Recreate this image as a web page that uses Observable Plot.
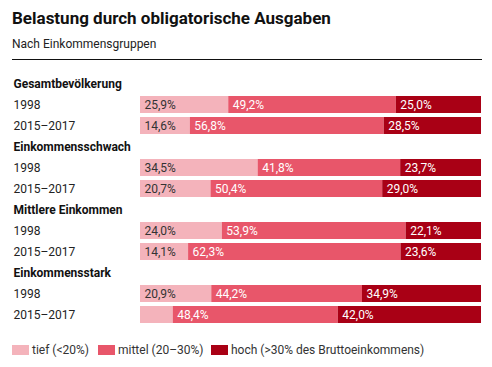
<!DOCTYPE html>
<html>
<head>
<meta charset="utf-8">
<script src="https://cdn.jsdelivr.net/npm/d3@7"></script>
<script src="https://cdn.jsdelivr.net/npm/@observablehq/plot@0.6"></script>
<style>
  html, body { margin: 0; padding: 0; background: #fff; }
  body { width: 492px; height: 367px; position: relative; font-family: Roboto, "Noto Sans", sans-serif; overflow: hidden; }
  #title { position: absolute; left: 12px; top: 8px; font-size: 17px; font-weight: 700; line-height: 20px; color: #111; white-space: nowrap; }
  #subtitle { position: absolute; left: 12px; top: 36px; font-size: 12px; line-height: 16px; color: #222; white-space: nowrap; }
  #rule { position: absolute; left: 12px; top: 59px; width: 470px; height: 1px; background: #111; }
  #chart { position: absolute; left: 0; top: 60px; }
  .item { position: absolute; top: 342px; height: 16px; display: flex; align-items: center; font-size: 12px; color: #333; white-space: nowrap; }
  .sw { width: 17px; height: 10px; margin-right: 3px; }
</style>
</head>
<body>
<div id="title">Belastung durch obligatorische Ausgaben</div>
<div id="subtitle">Nach Einkommensgruppen</div>
<div id="rule"></div>
<div id="chart"></div>
<div id="legend"></div>
<script>
const groups = ["Gesamtbevölkerung", "Einkommensschwach", "Mittlere Einkommen", "Einkommensstark"];
const periods = ["1998", "2015–2017"];
const categories = ["tief", "mittel", "hoch"];
const categoryLabels = ["tief (<20%)", "mittel (20–30%)", "hoch (>30% des Bruttoeinkommens)"];
const categoryColors = ["#f4b3bb", "#e8566a", "#a90015"];
// values in order: group0-1998, group0-2015, group1-1998, ...
const tief   = [25.9, 14.6, 34.5, 20.7, 24.0, 14.1, 20.9, 9.6];
const mittel = [49.2, 56.8, 41.8, 50.4, 53.9, 62.3, 44.2, 48.4];
const hoch   = [25.0, 28.5, 23.7, 29.0, 22.1, 23.6, 34.9, 42.0];

const series = [tief, mittel, hoch];
const rows = [];
const segs = [];
groups.forEach((g, i) => {
  rows.push({key: "h" + i, label: g, header: true});
  periods.forEach((p, j) => {
    const key = i + "|" + p;
    rows.push({key, label: p, header: false});
    const k = i * 2 + j;
    categories.forEach((c, ci) => {
      segs.push({row: key, cat: c, value: series[ci][k], color: categoryColors[ci]});
    });
  });
});

const fmt = v => v.toFixed(1).replace(".", ",") + "%";

const chart = Plot.plot({
  width: 492,
  height: 265,
  marginLeft: 140,
  marginRight: 11,
  marginTop: 13,
  marginBottom: 0,
  style: {fontFamily: "Roboto, 'Noto Sans', sans-serif", fontSize: "12px", color: "#222", background: "transparent"},
  x: {axis: null, domain: [0, 1]},
  y: {axis: null, domain: rows.map(r => r.key), paddingInner: 0.2, paddingOuter: 0.1},
  color: {type: "identity"},
  marks: [
    Plot.barX(segs, Plot.stackX({x: "value", y: "row", z: "cat", fill: "color", offset: "normalize"})),
    Plot.text(segs, Plot.stackX1({
      x: "value", y: "row", z: "cat", offset: "normalize",
      text: d => d.value >= 10 ? fmt(d.value) : "",
      fill: d => d.cat === "tief" ? "#333333" : "#ffffff",
      textAnchor: "start", dx: 4, fontSize: 12
    })),
    Plot.text(rows.filter(r => r.header), {y: "key", text: "label", frameAnchor: "left", dx: -127, textAnchor: "start", fontWeight: "bold", fill: "#111", fontSize: 12}),
    Plot.text(rows.filter(r => !r.header), {y: "key", text: "label", frameAnchor: "left", dx: -127, textAnchor: "start", fill: "#222", fontSize: 12})
  ]
});
document.getElementById("chart").appendChild(chart);

const legend = document.getElementById("legend");
const lefts = [12, 98, 211];
categories.forEach((c, i) => {
  const it = document.createElement("div");
  it.className = "item";
  it.style.left = lefts[i] + "px";
  const sw = document.createElement("span");
  sw.className = "sw";
  sw.style.background = categoryColors[i];
  const t = document.createElement("span");
  t.textContent = categoryLabels[i];
  it.appendChild(sw);
  it.appendChild(t);
  legend.appendChild(it);
});
</script>
</body>
</html>
